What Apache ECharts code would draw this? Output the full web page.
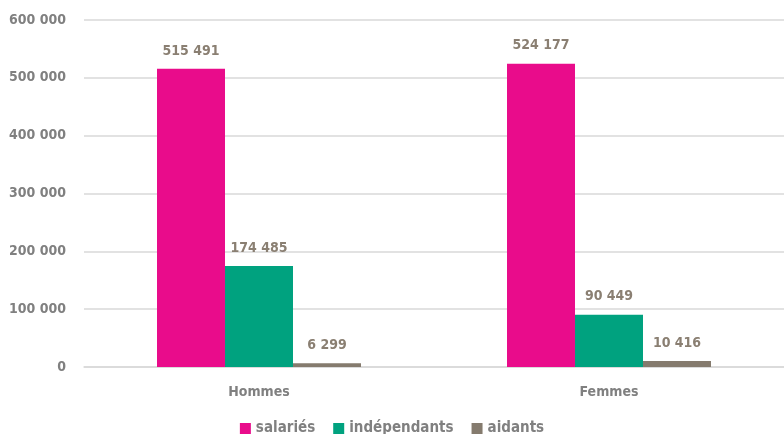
<!DOCTYPE html>
<html>
<head>
<meta charset="utf-8">
<script src="https://cdn.jsdelivr.net/npm/echarts@6/dist/echarts.min.js"></script>
<style>
  html, body { margin: 0; padding: 0; background: #fff; }
  #chart { width: 784px; height: 434px; }
</style>
</head>
<body>
<div id="chart"></div>
<script>
// données
var categories = ['Hommes', 'Femmes'];
var salaries = [515491, 524177];
var independants = [174485, 90449];
var aidants = [6299, 10416];
var seriesNames = ['salariés', 'indépendants', 'aidants'];
var colors = ['#E90C8B', '#00A27F', '#857B6E'];

var fontFam = "'DejaVu Sans Condensed', 'Liberation Sans Narrow', sans-serif";

function fmt(v) {
  return String(v).replace(/\B(?=(\d{3})+(?!\d))/g, ' ');
}

function makeSeries(name, data, color) {
  return {
    name: name,
    type: 'bar',
    data: data,
    barGap: '0%',
    barWidth: 68,
    itemStyle: { color: color },
    label: {
      show: true,
      position: 'top',
      distance: 11,
      color: '#8A7F72',
      fontFamily: fontFam,
      fontWeight: 'bold',
      fontSize: 14,
      formatter: function (p) { return fmt(p.value); }
    }
  };
}

var myChart = echarts.init(document.getElementById('chart'));
myChart.setOption({
  animation: false,
  color: colors,
  textStyle: { fontFamily: fontFam },
  grid: { left: 84, right: -4, top: 20, bottom: 67 },
  legend: {
    top: 421,
    padding: 0,
    left: 'center',
    itemWidth: 11,
    itemHeight: 11,
    itemGap: 18,
    icon: 'rect',
    textStyle: { color: '#808080', fontFamily: fontFam, fontWeight: 'bold', fontSize: 15 },
    data: seriesNames
  },
  xAxis: {
    type: 'category',
    data: categories,
    axisLine: { lineStyle: { color: '#D9D9D9', width: 1.5 } },
    axisTick: { show: false },
    axisLabel: { color: '#808080', fontFamily: fontFam, fontWeight: 'bold', fontSize: 14, margin: 18 }
  },
  yAxis: {
    type: 'value',
    min: 0,
    max: 600000,
    interval: 100000,
    axisLine: { show: false },
    axisTick: { show: false },
    splitLine: { lineStyle: { color: '#D9D9D9', width: 1.5 } },
    axisLabel: {
      color: '#808080', fontFamily: fontFam, fontWeight: 'bold', fontSize: 14, margin: 18,
      formatter: function (v) { return fmt(v); }
    }
  },
  series: [
    makeSeries(seriesNames[0], salaries, colors[0]),
    makeSeries(seriesNames[1], independants, colors[1]),
    makeSeries(seriesNames[2], aidants, colors[2])
  ]
});
</script>
</body>
</html>
